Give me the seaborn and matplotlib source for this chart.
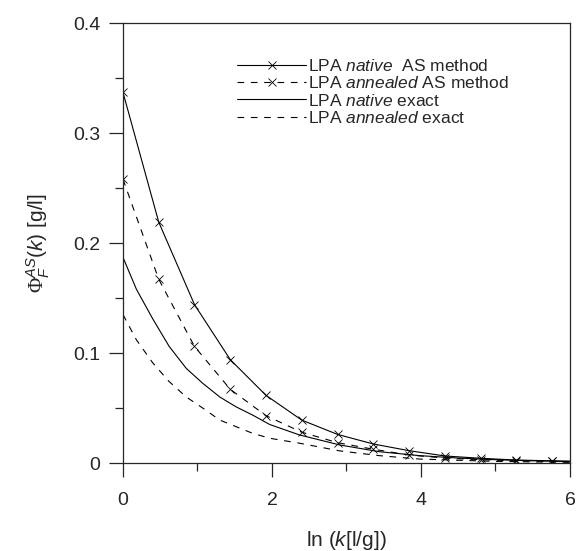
import numpy as np
import pandas as pd
import matplotlib
matplotlib.use("Agg")
import matplotlib.pyplot as plt
import seaborn as sns
from matplotlib.ticker import MultipleLocator, FuncFormatter

# AS method points (markers), ln k
x_as = [0.0, 0.48, 0.96, 1.44, 1.92, 2.40, 2.88, 3.36, 3.84, 4.32, 4.80, 5.28, 5.76, 6.0]
native_as = [0.337, 0.219, 0.144, 0.094, 0.0615, 0.039, 0.026, 0.0173, 0.0112, 0.0064,
             0.0043, 0.0027, 0.0020, 0.0017]
annealed_as = [0.258, 0.167, 0.106, 0.067, 0.043, 0.028, 0.0185, 0.0125, 0.0073, 0.0045,
               0.0030, 0.0020, 0.0015, 0.0013]

# exact curves
x_ex = [0.0, 0.18, 0.40, 0.62, 0.85, 1.07, 1.30, 1.52, 1.74, 1.97, 2.37, 2.91, 3.44,
        3.98, 4.5, 5.0, 5.5, 6.0]
native_ex = [0.187, 0.158, 0.131, 0.106, 0.086, 0.0725, 0.060, 0.051, 0.0436, 0.035,
             0.0255, 0.0164, 0.0103, 0.0067, 0.0045, 0.0030, 0.0020, 0.0013]
annealed_ex = [0.135, 0.112, 0.091, 0.074, 0.060, 0.050, 0.039, 0.033, 0.027, 0.0225,
               0.018, 0.011, 0.0067, 0.0036, 0.0025, 0.0015, 0.0010, 0.0006]

labels = [r"LPA $\mathit{native}$  AS method",
          r"LPA $\mathit{annealed}$ AS method",
          r"LPA $\mathit{native}$ exact",
          r"LPA $\mathit{annealed}$ exact"]

sns.set_style("ticks")
plt.rcParams["font.family"] = ["Liberation Sans", "DejaVu Sans"]
plt.rcParams["mathtext.fontset"] = "custom"
plt.rcParams["mathtext.rm"] = "Liberation Serif"
plt.rcParams["mathtext.it"] = "Liberation Sans:italic"

df_as = pd.DataFrame({"x": x_as, "native": native_as, "annealed": annealed_as})
df_ex = pd.DataFrame({"x": x_ex, "native": native_ex, "annealed": annealed_ex})

fig = plt.figure(figsize=(5.76, 5.51), dpi=100)
ax = fig.add_axes([0.2135, 0.1597, 0.776, 0.7985])

dash = (0, (6, 6))
marks = slice(0, 13)
mk = dict(marker="x", markersize=5.5, markeredgewidth=0.6, markeredgecolor="black",
          markevery=marks)
sns.lineplot(data=df_as, x="x", y="native", ax=ax, color="black", lw=0.8,
             label=labels[0], **mk)
sns.lineplot(data=df_as, x="x", y="annealed", ax=ax, color="black", lw=0.8,
             linestyle=dash, label=labels[1], **mk)
sns.lineplot(data=df_ex, x="x", y="native", ax=ax, color="black", lw=0.8,
             label=labels[2])
sns.lineplot(data=df_ex, x="x", y="annealed", ax=ax, color="black", lw=0.8,
             linestyle=dash, label=labels[3])

ax.set_xlim(0, 6)
ax.set_ylim(0, 0.4)
ax.xaxis.set_major_locator(MultipleLocator(2))
ax.xaxis.set_minor_locator(MultipleLocator(1))
ax.yaxis.set_major_locator(MultipleLocator(0.1))
ax.yaxis.set_minor_locator(MultipleLocator(0.05))
ax.yaxis.set_major_formatter(FuncFormatter(lambda v, p: "0" if abs(v) < 1e-9 else f"{v:.1f}"))
ax.tick_params(which="major", length=10, width=0.9, labelsize=14)
ax.tick_params(which="minor", length=5.8, width=0.9)
ax.tick_params(axis="x", which="major", pad=11)
ax.tick_params(axis="y", which="major", pad=6.5)
for s in ax.spines.values():
    s.set_linewidth(0.9)

ax.set_xlabel(r"ln ($\mathit{k}$[l/g])", fontsize=15, labelpad=14)
ax.set_ylabel(r"$\Phi_F^{AS}$($\mathit{k}$) [g/l]", fontsize=15, labelpad=15)

ax.legend(loc="upper left", bbox_to_anchor=(0.22, 0.955), frameon=False,
          fontsize=12.5, handlelength=4.0, handletextpad=0.1, labelspacing=0.06)

fig.savefig("out.png", dpi=100)
